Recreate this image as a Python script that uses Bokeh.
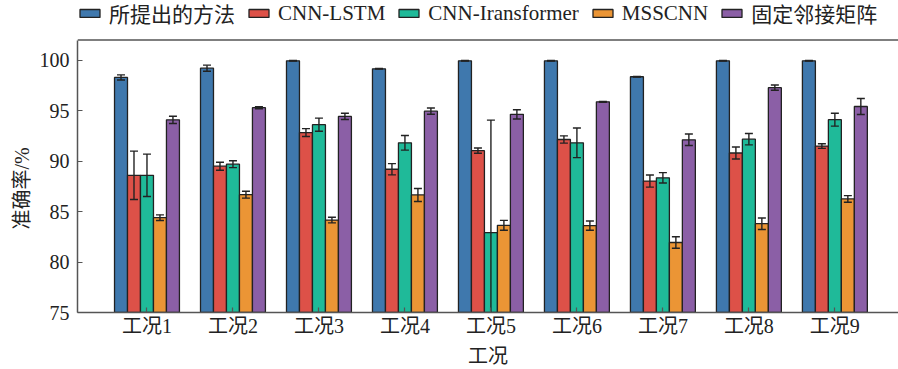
from bokeh.plotting import figure
from bokeh.models import FixedTicker, Range1d, Legend, LegendItem, Span, ColumnDataSource, Title
from bokeh.embed import file_html
from bokeh.resources import INLINE

conditions = ["工况1", "工况2", "工况3", "工况4", "工况5", "工况6", "工况7", "工况8", "工况9"]
methods = ["所提出的方法", "CNN-LSTM", "CNN-Iransformer", "MSSCNN", "固定邻接矩阵"]
colors = ["#3f78ad", "#dd5148", "#1fba99", "#eb9535", "#8b5fa6"]

proposed = [98.3, 99.22, 99.95, 99.15, 99.95, 99.95, 98.37, 99.95, 99.95]
proposed_err = [0.25, 0.3, 0.03, 0.03, 0.03, 0.03, 0.03, 0.03, 0.03]
cnn_lstm = [88.6, 89.5, 92.84, 89.2, 91.04, 92.15, 88.03, 90.81, 91.5]
cnn_lstm_err = [2.4, 0.4, 0.39, 0.56, 0.26, 0.36, 0.6, 0.6, 0.23]
cnn_trans = [88.6, 89.7, 93.62, 91.82, 82.92, 91.82, 88.35, 92.18, 94.11]
cnn_trans_err = [2.1, 0.34, 0.65, 0.72, 11.15, 1.47, 0.52, 0.56, 0.64]
msscnn = [84.4, 86.68, 84.16, 86.65, 83.64, 83.61, 81.94, 83.8, 86.26]
msscnn_err = [0.28, 0.34, 0.28, 0.64, 0.49, 0.46, 0.57, 0.57, 0.33]
fixed_adj = [94.1, 95.3, 94.44, 94.96, 94.64, 95.88, 92.12, 97.29, 95.42]
fixed_adj_err = [0.36, 0.1, 0.31, 0.31, 0.46, 0.05, 0.57, 0.26, 0.8]

series = [proposed, cnn_lstm, cnn_trans, msscnn, fixed_adj]
errors = [proposed_err, cnn_lstm_err, cnn_trans_err, msscnn_err, fixed_adj_err]
y_ticks = [75, 80, 85, 90, 95, 100]
y_min, y_max = 75, 102
y_label = "准确率/%"
x_label = "工况"

FONT = "Liberation Serif, Noto Sans CJK SC, serif"
TXT = "#222222"

FRAME_H = 315
PX_PER_UNIT = 275 / (y_max - y_min)
p = figure(width=898, height=369, output_backend="svg", toolbar_location=None,
           x_range=Range1d(0.192, 9.74),
           y_range=Range1d(y_min, y_min + FRAME_H / PX_PER_UNIT),
           min_border_left=77, min_border_right=0, min_border_top=0, min_border_bottom=54)
p.outline_line_color = None
p.grid.visible = False
p.background_fill_color = "white"
p.title.visible = False

bar_w = 0.151
items = []
for k, (vals, errs, col, name) in enumerate(zip(series, errors, colors, methods)):
    off = (k - 2) * bar_w
    xs = [i + 1 + off for i in range(len(conditions))]
    src = ColumnDataSource(dict(x=xs, top=vals,
                                lo=[max(v - e, y_min) for v, e in zip(vals, errs)],
                                hi=[v + e for v, e in zip(vals, errs)]))
    r = p.vbar(x="x", top="top", bottom=y_min, width=bar_w, source=src,
               fill_color=col, line_color="#222222", line_width=1.3)
    p.segment(x0="x", x1="x", y0="lo", y1="hi", source=src, line_color="#222222", line_width=1.4)
    p.dash(x="x", y="hi", source=src, size=8, line_color="#222222", line_width=1.4)
    lo_src = ColumnDataSource(dict(x=[x for x, v, e in zip(xs, vals, errs) if v - e > y_min],
                                   y=[v - e for v, e in zip(vals, errs) if v - e > y_min]))
    p.dash(x="x", y="y", source=lo_src, size=8, line_color="#222222", line_width=1.4)
    items.append(LegendItem(label=name, renderers=[r]))

p.add_layout(Span(location=y_max, dimension="width", line_color="#555555", line_width=1.5))

legend = Legend(items=items, orientation="horizontal", location=(0, 284),
                glyph_width=25, glyph_height=10, label_standoff=7, spacing=11,
                padding=0, margin=0, border_line_color=None, background_fill_alpha=0,
                label_text_font=FONT, label_text_font_size="21px", label_text_color=TXT)
p.add_layout(legend, "center")

for ax in (p.xaxis, p.yaxis):
    ax.axis_line_color = "#555555"
    ax.axis_line_width = 1.5
    ax.major_tick_line_color = "#555555"
    ax.major_tick_line_width = 1.2
    ax.major_tick_in = 5
    ax.major_tick_out = 0
    ax.minor_tick_line_color = None
    ax.major_label_text_font = FONT
    ax.major_label_text_font_size = "20px"
    ax.major_label_text_color = TXT
    ax.major_label_text_line_height = 1.0
    ax.axis_label_text_font = FONT
    ax.axis_label_text_font_size = "20px"
    ax.axis_label_text_font_style = "normal"
    ax.axis_label_text_color = TXT
    ax.axis_label_text_line_height = 1.0

p.xaxis.ticker = FixedTicker(ticks=list(range(1, len(conditions) + 1)))
p.xaxis.major_label_overrides = {i + 1: c for i, c in enumerate(conditions)}
p.xaxis.axis_label = x_label
p.xaxis.major_label_standoff = 2
p.xaxis.axis_label_standoff = 5

p.yaxis.ticker = FixedTicker(ticks=y_ticks)
p.yaxis.bounds = (y_min, y_max)
p.yaxis.major_label_standoff = 8

ytitle = Title(text=y_label, align="left", offset=83, standoff=7,
               text_font=FONT, text_font_size="20px", text_font_style="normal",
               text_color=TXT)
p.add_layout(ytitle, "left")

open("out.html", "w").write(file_html(p, INLINE))
